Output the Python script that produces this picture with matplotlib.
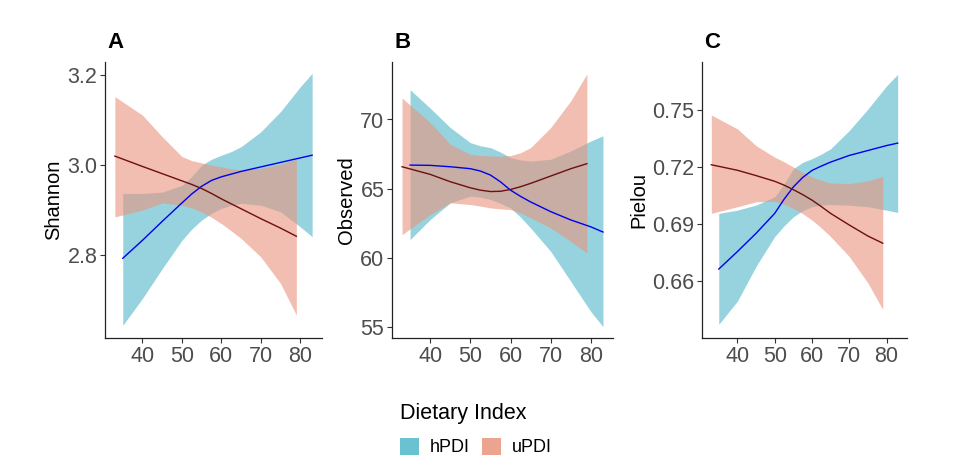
"""Dietary index vs alpha diversity (Shannon / Observed / Pielou)"""

import matplotlib
matplotlib.use('Agg')
import matplotlib.pyplot as plt
from matplotlib.patches import Patch

plt.rcParams['font.family'] = ['Liberation Sans', 'DejaVu Sans']

# x grids (age)
u_x = [33, 40, 45, 50, 52.5, 55, 57.5, 60, 62.5, 65, 70, 75, 79]
h_x = [35, 40, 45, 50, 52.5, 55, 57.5, 60, 62.5, 65, 70, 75, 80, 83]

# A - Shannon
shannon_u_fit = [3.020, 2.997, 2.981, 2.965, 2.957, 2.948, 2.937, 2.925, 2.914, 2.903, 2.881, 2.860, 2.842]
shannon_u_hi = [3.152, 3.111, 3.063, 3.019, 3.010, 3.005, 3.000, 2.996, 2.992, 2.989, 2.993, 3.002, 3.013]
shannon_u_lo = [2.885, 2.900, 2.916, 2.911, 2.905, 2.896, 2.884, 2.870, 2.854, 2.837, 2.796, 2.737, 2.667]
shannon_h_fit = [2.793, 2.833, 2.875, 2.916, 2.936, 2.953, 2.966, 2.974, 2.980, 2.986, 2.996, 3.006, 3.016, 3.022]
shannon_h_hi = [2.937, 2.937, 2.940, 2.955, 2.975, 3.000, 3.013, 3.022, 3.030, 3.041, 3.074, 3.119, 3.174, 3.204]
shannon_h_lo = [2.644, 2.704, 2.770, 2.833, 2.858, 2.878, 2.893, 2.904, 2.911, 2.915, 2.911, 2.896, 2.863, 2.841]

# B - Observed
observed_u_fit = [66.59, 66.04, 65.51, 65.07, 64.90, 64.80, 64.82, 64.95, 65.15, 65.39, 65.92, 66.45, 66.81]
observed_u_hi = [71.55, 69.78, 68.21, 67.49, 67.40, 67.37, 67.35, 67.40, 67.60, 67.97, 69.42, 71.35, 73.29]
observed_u_lo = [61.69, 63.14, 63.99, 63.86, 63.75, 63.62, 63.55, 63.50, 63.25, 62.90, 62.17, 61.20, 60.36]
observed_h_fit = [66.71, 66.69, 66.59, 66.45, 66.28, 65.99, 65.50, 64.90, 64.45, 64.05, 63.35, 62.75, 62.25, 61.88]
observed_h_hi = [72.15, 70.82, 69.42, 68.33, 68.10, 67.97, 67.65, 67.25, 67.08, 67.00, 67.13, 67.73, 68.45, 68.82]
observed_h_lo = [61.33, 62.78, 63.99, 64.47, 64.40, 64.23, 63.95, 63.62, 62.95, 62.17, 60.48, 58.31, 56.13, 55.05]

# C - Pielou
pielou_u_fit = [0.7212, 0.7183, 0.7155, 0.7125, 0.7105, 0.7081, 0.7055, 0.7026, 0.6992, 0.6956, 0.6895, 0.6837, 0.6799]
pielou_u_hi = [0.7474, 0.7401, 0.7313, 0.7252, 0.7228, 0.7200, 0.7172, 0.7148, 0.7130, 0.7116, 0.7113, 0.7127, 0.7151]
pielou_u_lo = [0.6956, 0.6991, 0.7017, 0.7020, 0.7005, 0.6982, 0.6955, 0.6921, 0.6880, 0.6834, 0.6729, 0.6590, 0.6450]
pielou_h_fit = [0.6663, 0.6755, 0.6851, 0.6956, 0.7030, 0.7095, 0.7145, 0.7182, 0.7205, 0.7226, 0.7261, 0.7287, 0.7313, 0.7326]
pielou_h_hi = [0.6956, 0.6973, 0.7000, 0.7043, 0.7110, 0.7191, 0.7225, 0.7244, 0.7268, 0.7296, 0.7392, 0.7505, 0.7627, 0.7688]
pielou_h_lo = [0.6372, 0.6494, 0.6677, 0.6834, 0.6890, 0.6938, 0.6970, 0.6991, 0.6999, 0.7003, 0.6999, 0.6991, 0.6973, 0.6961]

x_ticks = [40, 50, 60, 70, 80]

panels = [
    ('A', 'Shannon', [2.8, 3.0, 3.2], ['2.8', '3.0', '3.2'], (2.616, 3.229),
     (shannon_h_lo, shannon_h_hi, shannon_h_fit, shannon_u_lo, shannon_u_hi, shannon_u_fit)),
    ('B', 'Observed', [55, 60, 65, 70], ['55', '60', '65', '70'], (54.23, 74.15),
     (observed_h_lo, observed_h_hi, observed_h_fit, observed_u_lo, observed_u_hi, observed_u_fit)),
    ('C', 'Pielou', [0.66, 0.69, 0.72, 0.75], ['0.66', '0.69', '0.72', '0.75'], (0.630, 0.7753),
     (pielou_h_lo, pielou_h_hi, pielou_h_fit, pielou_u_lo, pielou_u_hi, pielou_u_fit)),
]

teal = '#50B7C8'
pink = '#E8947D'
blue_line = '#0000EE'
red_line = '#6E0E0E'
tick_grey = '#4D4D4D'

W, H = 971, 476
fig = plt.figure(figsize=(W / 100, H / 100), dpi=100)

# axes boxes in pixels: left, right
boxes = [(105, 322), (392, 613), (702, 907)]
top_px, bot_px = 62, 338

for (label, ylab, yt, ytl, ylim, d), (l, r) in zip(panels, boxes):
    ax = fig.add_axes([l / W, 1 - bot_px / H, (r - l) / W, (bot_px - top_px) / H])
    h_lo, h_hi, h_fit, u_lo, u_hi, u_fit = d
    ax.fill_between(h_x, h_lo, h_hi, color=teal, alpha=0.6, linewidth=0)
    ax.plot(h_x, h_fit, color=blue_line, linewidth=1.0)
    ax.fill_between(u_x, u_lo, u_hi, color=pink, alpha=0.6, linewidth=0)
    ax.plot(u_x, u_fit, color=red_line, linewidth=1.0)

    ax.set_xlim(30.5, 85.5)
    ax.set_ylim(*ylim)
    ax.set_xticks(x_ticks)
    ax.set_yticks(yt)
    ax.set_yticklabels(ytl)
    ax.tick_params(colors='#333333', labelcolor=tick_grey, labelsize=15.5,
                   length=3.5, width=0.8, pad=2)
    for side in ('top', 'right'):
        ax.spines[side].set_visible(False)
    for side in ('left', 'bottom'):
        ax.spines[side].set_linewidth(0.9)
        ax.spines[side].set_color('#222222')
    ax.set_ylabel(ylab, fontsize=14.5, color='black', labelpad=3)
    fig.text((l + 2) / W, 1 - 42 / H, label, fontsize=16, fontweight='bold',
             ha='left', va='center')

handles = [Patch(facecolor=teal, alpha=0.85, edgecolor='none', label='hPDI'),
           Patch(facecolor=pink, alpha=0.85, edgecolor='none', label='uPDI')]
fig.legend(handles=handles, loc='upper left', bbox_to_anchor=(400 / W, 1 - 403 / H),
           ncol=2, frameon=False, title='Dietary Index', title_fontsize=15.5,
           fontsize=13, alignment='left', handlelength=1.05, handleheight=1.1,
           handletextpad=0.6, columnspacing=0.7, labelspacing=0.75,
           borderaxespad=0, borderpad=0)

fig.savefig('out.png', dpi=100)
